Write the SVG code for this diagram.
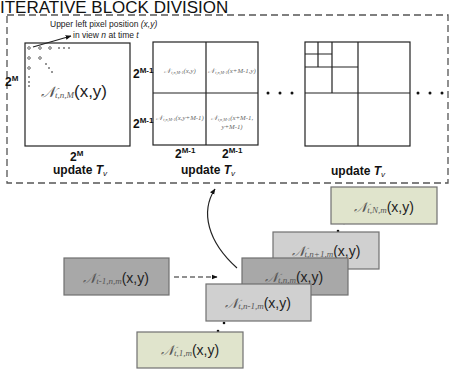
<svg xmlns="http://www.w3.org/2000/svg" width="449" height="376" viewBox="0 0 449 376">
<style>
.frame{fill:none;stroke:#555;stroke-width:1.3;stroke-dasharray:7 4}
.sq{fill:#fff;stroke:#222;stroke-width:1.2}
.ln{stroke:#222;stroke-width:1.2;fill:none}
.title{font-family:"Liberation Sans",Arial,sans-serif;font-size:17px;fill:#111}
.lbl{font-family:"Liberation Sans",Arial,sans-serif;font-weight:bold;font-size:12px;fill:#111}
.note{font-family:"Liberation Sans",Arial,sans-serif;font-size:8.5px;fill:#222}
.cal{font-family:"DejaVu Serif","Liberation Serif",serif;font-style:italic;fill:#555}
.sub{font-family:"Liberation Serif",serif;font-style:italic;fill:#555}
.xy{font-family:"Liberation Sans",Arial,sans-serif;fill:#222}
.cell{font-family:"Liberation Serif",serif;font-style:italic;font-size:6.8px;fill:#666}
.box{stroke:#707070;stroke-width:1.2}
.dk{fill:#a8a8a8}
.lt{fill:#d0d0d0}
.gr{fill:#e0e4cc}
.dot{fill:#111}
.odot{fill:none;stroke:#444;stroke-width:0.8}
</style>
<defs>
<marker id="ah" viewBox="0 0 10 10" refX="9" refY="5" markerWidth="5" markerHeight="5" orient="auto"><path d="M0,1 L10,5 L0,9 z" fill="#111"/></marker>
</defs>
<rect width="449" height="376" fill="#fff"/>
<text class="title" x="0" y="13">ITERATIVE BLOCK DIVISION</text>
<rect class="frame" x="7" y="15" width="441" height="168"/>

<g id="stage1">
<rect class="sq" x="25" y="43" width="105" height="103"/>
<circle class="odot" cx="29" cy="48" r="1.3"/><circle class="odot" cx="40" cy="48" r="1.3"/><circle class="odot" cx="50" cy="48" r="1.3"/>
<circle class="dot" cx="59" cy="48" r="0.8"/><circle class="dot" cx="64" cy="48" r="0.8"/><circle class="dot" cx="69" cy="48" r="0.8"/>
<circle class="odot" cx="29" cy="58" r="1.3"/><circle class="odot" cx="40" cy="58" r="1.3"/><circle class="odot" cx="29" cy="68" r="1.3"/>
<circle class="dot" cx="29" cy="77" r="0.8"/><circle class="dot" cx="29" cy="82" r="0.8"/><circle class="dot" cx="29" cy="86" r="0.8"/>
<circle class="dot" cx="46" cy="64" r="0.8"/><circle class="dot" cx="49" cy="68" r="0.8"/><circle class="dot" cx="52" cy="72" r="0.8"/>
<text class="note" x="50" y="27">Upper left pixel position <tspan font-style="italic">(x,y)</tspan></text>
<text class="note" x="73" y="38">in view <tspan font-style="italic">n</tspan> at time <tspan font-style="italic">t</tspan></text>
<path class="ln" d="M33,47 L71,36" stroke-width="0.9" marker-end="url(#ah)"/>
<text class="lbl" x="5" y="86">2<tspan font-size="8" dy="-5">M</tspan></text>
<text x="74" y="97" text-anchor="middle"><tspan class="cal" font-size="15">𝒩</tspan><tspan class="sub" font-size="9" dy="1">t,n,M</tspan><tspan class="xy" font-size="17" dy="-1">(x,y)</tspan></text>
<text class="lbl" x="70" y="161">2<tspan font-size="8" dy="-5">M</tspan></text>
<text class="lbl" x="80" y="174" text-anchor="middle">update <tspan font-style="italic">T</tspan><tspan font-style="italic" font-weight="normal" font-size="8" dy="2">v</tspan></text>
</g>

<g id="stage2">
<rect class="sq" x="153" y="42" width="105" height="103"/>
<path class="ln" d="M206,42 V145 M153,93 H258"/>
<text class="lbl" x="133" y="78">2<tspan font-size="8" dy="-5">M-1</tspan></text>
<text class="lbl" x="133" y="128">2<tspan font-size="8" dy="-5">M-1</tspan></text>
<text class="cell" x="180" y="73" text-anchor="middle">𝒩<tspan font-size="4.2" dy="1">t,n,M-1</tspan><tspan dy="-1">(x,y)</tspan></text>
<text class="cell" x="232" y="73" text-anchor="middle">𝒩<tspan font-size="4.2" dy="1">t,n,M-1</tspan><tspan dy="-1">(x+M-1,y)</tspan></text>
<text class="cell" x="180" y="120" text-anchor="middle">𝒩<tspan font-size="4.2" dy="1">t,n,M-1</tspan><tspan dy="-1">(x,y+M-1)</tspan></text>
<text class="cell" x="232" y="120" text-anchor="middle">𝒩<tspan font-size="4.2" dy="1">t,n,M-1</tspan><tspan dy="-1">(x+M-1,</tspan></text>
<text class="cell" x="232" y="129" text-anchor="middle">y+M-1)</text>
<text class="lbl" x="175" y="158">2<tspan font-size="8" dy="-5">M-1</tspan></text>
<text class="lbl" x="222" y="158">2<tspan font-size="8" dy="-5">M-1</tspan></text>
<text class="lbl" x="208" y="174" text-anchor="middle">update <tspan font-style="italic">T</tspan><tspan font-style="italic" font-weight="normal" font-size="8" dy="2">v</tspan></text>
<circle class="dot" cx="268" cy="93" r="1.5"/><circle class="dot" cx="280" cy="93" r="1.5"/><circle class="dot" cx="292" cy="93" r="1.5"/>
</g>

<g id="stage3">
<rect class="sq" x="305" y="42" width="105" height="104"/>
<path class="ln" d="M358,42 V146 M305,93 H410 M332,42 V93 M305,67 H358 M318,42 V67 M305,54 H332"/>
<text class="lbl" x="358" y="175" text-anchor="middle">update <tspan font-style="italic">T</tspan><tspan font-style="italic" font-weight="normal" font-size="8" dy="2">v</tspan></text>
<circle class="dot" cx="418" cy="93" r="1.5"/><circle class="dot" cx="430" cy="93" r="1.5"/><circle class="dot" cx="442" cy="93" r="1.5"/>
</g>

<g id="connectors">
<path class="ln" d="M174,277 H217" stroke-width="1" stroke-dasharray="5 3" marker-end="url(#ah)"/>
<path class="ln" d="M237,268 C208,242 200,212 215,189" stroke-width="1" marker-end="url(#ah)"/>
<circle class="dot" cx="351" cy="217" r="1.3"/><circle class="dot" cx="344" cy="223" r="1.3"/><circle class="dot" cx="338" cy="231" r="1.3"/>
<circle class="dot" cx="231" cy="317" r="1.3"/><circle class="dot" cx="224" cy="323" r="1.3"/><circle class="dot" cx="218" cy="331" r="1.3"/>
</g>

<g id="prev">
<rect class="box dk" x="64" y="258" width="105" height="37"/>
<text x="116" y="283" text-anchor="middle"><tspan class="cal" font-size="14">𝒩</tspan><tspan class="sub" font-size="9" dy="1">t-1,n,m</tspan><tspan class="xy" font-size="14" dy="-1">(x,y)</tspan></text>
</g>
<g id="tNm">
<rect class="box gr" x="331" y="187" width="106" height="37"/>
<text x="384" y="212" text-anchor="middle"><tspan class="cal" font-size="14">𝒩</tspan><tspan class="sub" font-size="9" dy="1">t,N,m</tspan><tspan class="xy" font-size="14" dy="-1">(x,y)</tspan></text>
</g>
<g id="tn1m">
<rect class="box lt" x="273" y="232" width="106" height="37"/>
<text x="326" y="256" text-anchor="middle"><tspan class="cal" font-size="14">𝒩</tspan><tspan class="sub" font-size="9" dy="1">t,n+1,m</tspan><tspan class="xy" font-size="14" dy="-1">(x,y)</tspan></text>
</g>
<g id="tnm">
<rect class="box dk" x="242" y="258" width="106" height="37"/>
<text x="294" y="282" text-anchor="middle"><tspan class="cal" font-size="14">𝒩</tspan><tspan class="sub" font-size="9" dy="1">t,n,m</tspan><tspan class="xy" font-size="14" dy="-1">(x,y)</tspan></text>
</g>
<g id="tnm1">
<rect class="box lt" x="206" y="284" width="105" height="37"/>
<text x="258" y="308" text-anchor="middle"><tspan class="cal" font-size="14">𝒩</tspan><tspan class="sub" font-size="9" dy="1">t,n-1,m</tspan><tspan class="xy" font-size="14" dy="-1">(x,y)</tspan></text>
</g>
<g id="t1m">
<rect class="box gr" x="137" y="332" width="106" height="36"/>
<text x="190" y="355" text-anchor="middle"><tspan class="cal" font-size="14">𝒩</tspan><tspan class="sub" font-size="9" dy="1">t,1,m</tspan><tspan class="xy" font-size="14" dy="-1">(x,y)</tspan></text>
</g>
</svg>
